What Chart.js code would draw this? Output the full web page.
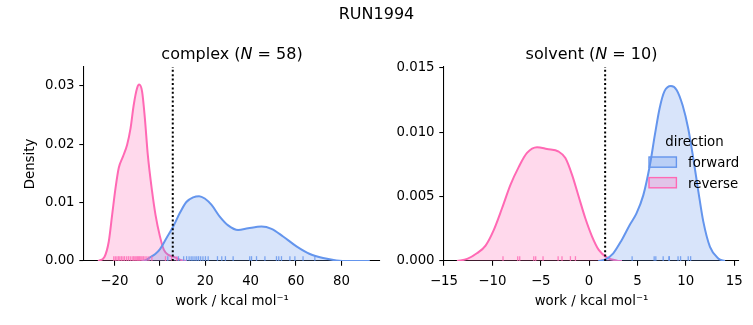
<!DOCTYPE html>
<html>
<head>
<meta charset="utf-8">
<script src="https://cdn.jsdelivr.net/npm/chart.js@4/dist/chart.umd.min.js"></script>
<style>
  html, body { margin: 0; padding: 0; background: #ffffff; }
  #wrap { position: relative; width: 753px; height: 325px; }
  #wrap canvas { position: absolute; left: 0; top: 0; }
</style>
</head>
<body>
<div id="wrap">
  <canvas id="cplx" width="753" height="325"></canvas>
  <canvas id="solv" width="753" height="325"></canvas>
</div>
<script>
// ---------------- text ----------------
const suptitle = 'RUN1994';
const seriesNames = ['forward', 'reverse'];
const legendTitle = 'direction';
const xAxisLabel = 'work / kcal mol\u207B\u00B9';
const yAxisLabel = 'Density';

// ---------------- complex panel ----------------
const cplxName = 'complex';
const cplxN = 58;
const cplxFwdX = [-8, -6, -4.4, -2, 0, 2.9, 5.9, 8.8, 11.7, 14.7, 17.3, 19.8, 22.8, 26.4, 30.1, 34.5, 38.9, 44.8, 49.2, 54.3, 60.2, 66.1, 71.9, 77.8, 83.7, 92.5];
const cplxFwdY = [0, 0.0002, 0.0006, 0.0012, 0.0020, 0.0039, 0.0059, 0.0082, 0.0101, 0.0109, 0.0111, 0.0107, 0.0096, 0.0076, 0.0061, 0.0053, 0.0056, 0.0059, 0.0055, 0.0042, 0.0025, 0.0012, 0.0005, 0.0001, 0, 0];
const cplxRevX = [-27.2, -24.4, -22.5, -21, -19.5, -18.1, -16.2, -14.4, -12.9, -11.5, -10, -9.1, -7.8, -6.6, -5.3, -3.4, -1.9, 0, 1.8, 4, 6.2, 9.1, 12];
const cplxRevY = [0, 0.0007, 0.0033, 0.0079, 0.0125, 0.0159, 0.0179, 0.0199, 0.0227, 0.0267, 0.0296, 0.0302, 0.0290, 0.0245, 0.0182, 0.0119, 0.0079, 0.0043, 0.0019, 0.0010, 0.0007, 0.0002, 0];
const cplxFwdRug = [3.5, 8.2, 10.5, 11.8, 12.9, 13.8, 14.6, 15.5, 16.3, 17.1, 18.0, 19.0, 20.1, 21.3, 25.4, 27.3, 28.9, 32.3, 39.6, 40.4, 42.6, 46.3, 51.4, 52.4, 53.6, 57.3, 59.5, 63.1, 68.3];
const cplxRevRug = [-20.3, -19.6, -18.9, -18.2, -17.6, -16.9, -16.2, -15.5, -14.6, -13.8, -13.0, -12.2, -11.6, -11.0, -10.5, -10.0, -9.6, -9.2, -8.8, -8.3, -7.8, -7.2, -6.5, -5.7, -4.8, -3.5, 2.5, 5.2, 7.5];
const cplxVline = 5.7;
const cplxXTicks = [-20, 0, 20, 40, 60, 80];
const cplxYTicks = [0, 0.01, 0.02, 0.03];
const cplxXRange = [-33.4, 97];
const cplxYRange = [0, 0.0332];

// ---------------- solvent panel ----------------
const solvName = 'solvent';
const solvN = 10;
const solvFwdX = [0.95, 1.63, 2.5, 3.35, 4.2, 4.9, 5.6, 6.3, 6.8, 7.3, 7.8, 8.46, 9.05, 9.67, 10.25, 10.77, 11.3, 11.8, 12.5, 13.35, 14.05];
const solvFwdY = [0, 0.0001, 0.0006, 0.0016, 0.0028, 0.0037, 0.0051, 0.0075, 0.0098, 0.0119, 0.0132, 0.0136, 0.0133, 0.0121, 0.0103, 0.0080, 0.0054, 0.0031, 0.0011, 0.0002, 0];
const solvRevX = [-13.66, -12.6, -11.6, -10.7, -9.86, -9.0, -8.14, -7.28, -6.42, -5.38, -4.35, -3.14, -2.45, -1.76, -1.07, -0.38, 0.31, 1.0, 1.87, 2.9, 3.4];
const solvRevY = [0, 0.00016, 0.0006, 0.0012, 0.0024, 0.0041, 0.0059, 0.0073, 0.0084, 0.00885, 0.0087, 0.0085, 0.0080, 0.0067, 0.0050, 0.0033, 0.0019, 0.00086, 0.00026, 0.00003, 0];
const solvFwdRug = [4.45, 6.73, 6.9, 7.66, 8.25, 8.3, 9.2, 9.46, 10.25, 10.5];
const solvRevRug = [-8.9, -7.38, -7.17, -5.72, -5.52, -4.76, -3.2, -2.8, -1.93, -1.41];
const solvVline = 1.66;
const solvXTicks = [-15, -10, -5, 0, 5, 10, 15];
const solvYTicks = [0, 0.005, 0.01, 0.015];
const solvXRange = [-15, 15.5];
const solvYRange = [0, 0.01508];

// ---------------- style ----------------
const FONT = "'DejaVu Sans', sans-serif";
const BLUE = 'rgb(100,149,237)';
const BLUE_FILL = 'rgba(100,149,237,0.25)';
const PINK = 'rgb(255,105,180)';
const PINK_FILL = 'rgba(255,105,180,0.25)';
const TICK_PX = 13.33;
const TITLE_PX = 16;

Chart.defaults.font.family = FONT;
Chart.defaults.color = '#000';

function pts(xs, ys) { return xs.map((x, i) => ({ x: x, y: ys[i] })); }
function fmtMinus(v) { return (v < 0 ? '\u2212' : '') + String(Math.abs(v)); }

function drawRich(ctx, parts, cx, baseline) {
  let total = 0;
  parts.forEach(p => { ctx.font = p.font; p.w = ctx.measureText(p.text).width; total += p.w; });
  let x = cx - total / 2;
  ctx.textAlign = 'left';
  ctx.textBaseline = 'alphabetic';
  parts.forEach(p => { ctx.font = p.font; ctx.fillText(p.text, x, baseline); x += p.w; });
}

function panelPlugin(p) {
  return {
    id: 'panel_' + p.name,
    afterDatasetsDraw(chart) {
      const { ctx, chartArea } = chart;
      const xs = chart.scales.x;
      const h = (chartArea.bottom - chartArea.top) * 0.025;
      ctx.save();
      ctx.lineWidth = 1.3;
      ctx.globalAlpha = 0.8;
      [[p.fwdRug, BLUE], [p.revRug, PINK]].forEach(([vals, col]) => {
        ctx.strokeStyle = col;
        vals.forEach(v => {
          const px = xs.getPixelForValue(v);
          ctx.beginPath();
          ctx.moveTo(px, chartArea.bottom);
          ctx.lineTo(px, chartArea.bottom - h);
          ctx.stroke();
        });
      });
      ctx.globalAlpha = 1;
      ctx.strokeStyle = '#000';
      ctx.lineWidth = 2;
      ctx.setLineDash([2, 2.4]);
      const vx = xs.getPixelForValue(p.vline);
      ctx.beginPath();
      ctx.moveTo(vx, chartArea.bottom);
      ctx.lineTo(vx, chartArea.top);
      ctx.stroke();
      ctx.restore();
    },
    afterDraw(chart) {
      const { ctx, chartArea } = chart;
      ctx.save();
      ctx.fillStyle = '#000';
      const normal = TITLE_PX + 'px ' + FONT;
      drawRich(ctx, [
        { text: p.name + ' (', font: normal },
        { text: 'N', font: 'italic ' + normal },
        { text: ' = ' + p.n + ')', font: normal }
      ], (chartArea.left + chartArea.right) / 2, chartArea.top - 8);
      if (p.suptitle) {
        ctx.font = TITLE_PX + 'px ' + FONT;
        ctx.textAlign = 'center';
        ctx.textBaseline = 'alphabetic';
        ctx.fillText(suptitle, chart.width / 2, 18.8);
      }
      if (p.legend) {
        const lx = chartArea.right - 90;
        const ty = chartArea.top + 78.5;
        ctx.font = TICK_PX + 'px ' + FONT;
        ctx.textAlign = 'center';
        ctx.textBaseline = 'alphabetic';
        ctx.fillText(legendTitle, lx + 45.5, ty);
        const items = [[seriesNames[0], BLUE, BLUE_FILL], [seriesNames[1], PINK, PINK_FILL]];
        items.forEach(([name, line, fill], i) => {
          const py = ty + 11.5 + i * 20.6;
          ctx.fillStyle = fill;
          ctx.fillRect(lx, py, 27.4, 10.2);
          ctx.strokeStyle = line;
          ctx.lineWidth = 1.4;
          ctx.strokeRect(lx, py, 27.4, 10.2);
          ctx.fillStyle = '#000';
          ctx.textAlign = 'left';
          ctx.fillText(name, lx + 39, py + 10);
        });
      }
      ctx.restore();
    }
  };
}

function makeChart(id, p) {
  const datasets = [
    { label: seriesNames[0], data: pts(p.fwdX, p.fwdY), borderColor: BLUE, backgroundColor: BLUE_FILL },
    { label: seriesNames[1], data: pts(p.revX, p.revY), borderColor: PINK, backgroundColor: PINK_FILL }
  ].map(d => Object.assign(d, {
    fill: 'origin', borderWidth: 2, pointRadius: 0, pointHoverRadius: 0,
    cubicInterpolationMode: 'monotone'
  }));
  const axisCommon = {
    type: 'linear',
    grid: { display: true, drawOnChartArea: false, drawTicks: true, tickLength: 4.7, color: '#000', lineWidth: 1.07 },
    border: { display: true, color: '#000', width: 1.07 },
  };
  return new Chart(document.getElementById(id), {
    type: 'line',
    data: { datasets },
    options: {
      responsive: false,
      animation: false,
      events: [],
      layout: { padding: p.padding },
      plugins: { legend: { display: false }, tooltip: { enabled: false }, title: { display: false } },
      scales: {
        x: Object.assign({}, axisCommon, {
          min: p.xRange[0], max: p.xRange[1],
          afterBuildTicks: s => { s.ticks = p.xTicks.map(v => ({ value: v })); },
          afterFit: s => { s.height = 64; },
          ticks: { autoSkip: false, maxRotation: 0, padding: 8, font: { size: TICK_PX }, color: '#000',
                   callback: v => fmtMinus(v) },
          title: { display: true, text: xAxisLabel, font: { size: TICK_PX }, color: '#000', padding: { top: 0, bottom: 15.3 } }
        }),
        y: Object.assign({}, axisCommon, {
          min: p.yRange[0], max: p.yRange[1],
          afterBuildTicks: s => { s.ticks = p.yTicks.map(v => ({ value: v })); },
          afterFit: s => { s.width = p.yWidth; },
          ticks: { autoSkip: false, padding: 4.7, font: { size: TICK_PX }, color: '#000',
                   callback: v => v.toFixed(p.yDigits) },
          title: { display: p.yTitle, text: yAxisLabel, font: { size: TICK_PX }, color: '#000', padding: { top: 23, bottom: 0 } }
        })
      }
    },
    plugins: [panelPlugin(p)]
  });
}

makeChart('cplx', {
  name: cplxName, n: cplxN,
  fwdX: cplxFwdX, fwdY: cplxFwdY, revX: cplxRevX, revY: cplxRevY,
  fwdRug: cplxFwdRug, revRug: cplxRevRug, vline: cplxVline,
  xTicks: cplxXTicks, yTicks: cplxYTicks, xRange: cplxXRange, yRange: cplxYRange,
  yDigits: 2, yTitle: true, yWidth: 84,
  padding: { left: 0, right: 373, top: 67, bottom: 0 },
  suptitle: true, legend: false
});

makeChart('solv', {
  name: solvName, n: solvN,
  fwdX: solvFwdX, fwdY: solvFwdY, revX: solvRevX, revY: solvRevY,
  fwdRug: solvFwdRug, revRug: solvRevRug, vline: solvVline,
  xTicks: solvXTicks, yTicks: solvYTicks, xRange: solvXRange, yRange: solvYRange,
  yDigits: 3, yTitle: false, yWidth: 60,
  padding: { left: 384, right: 14, top: 67, bottom: 0 },
  suptitle: false, legend: true
});
</script>
</body>
</html>
